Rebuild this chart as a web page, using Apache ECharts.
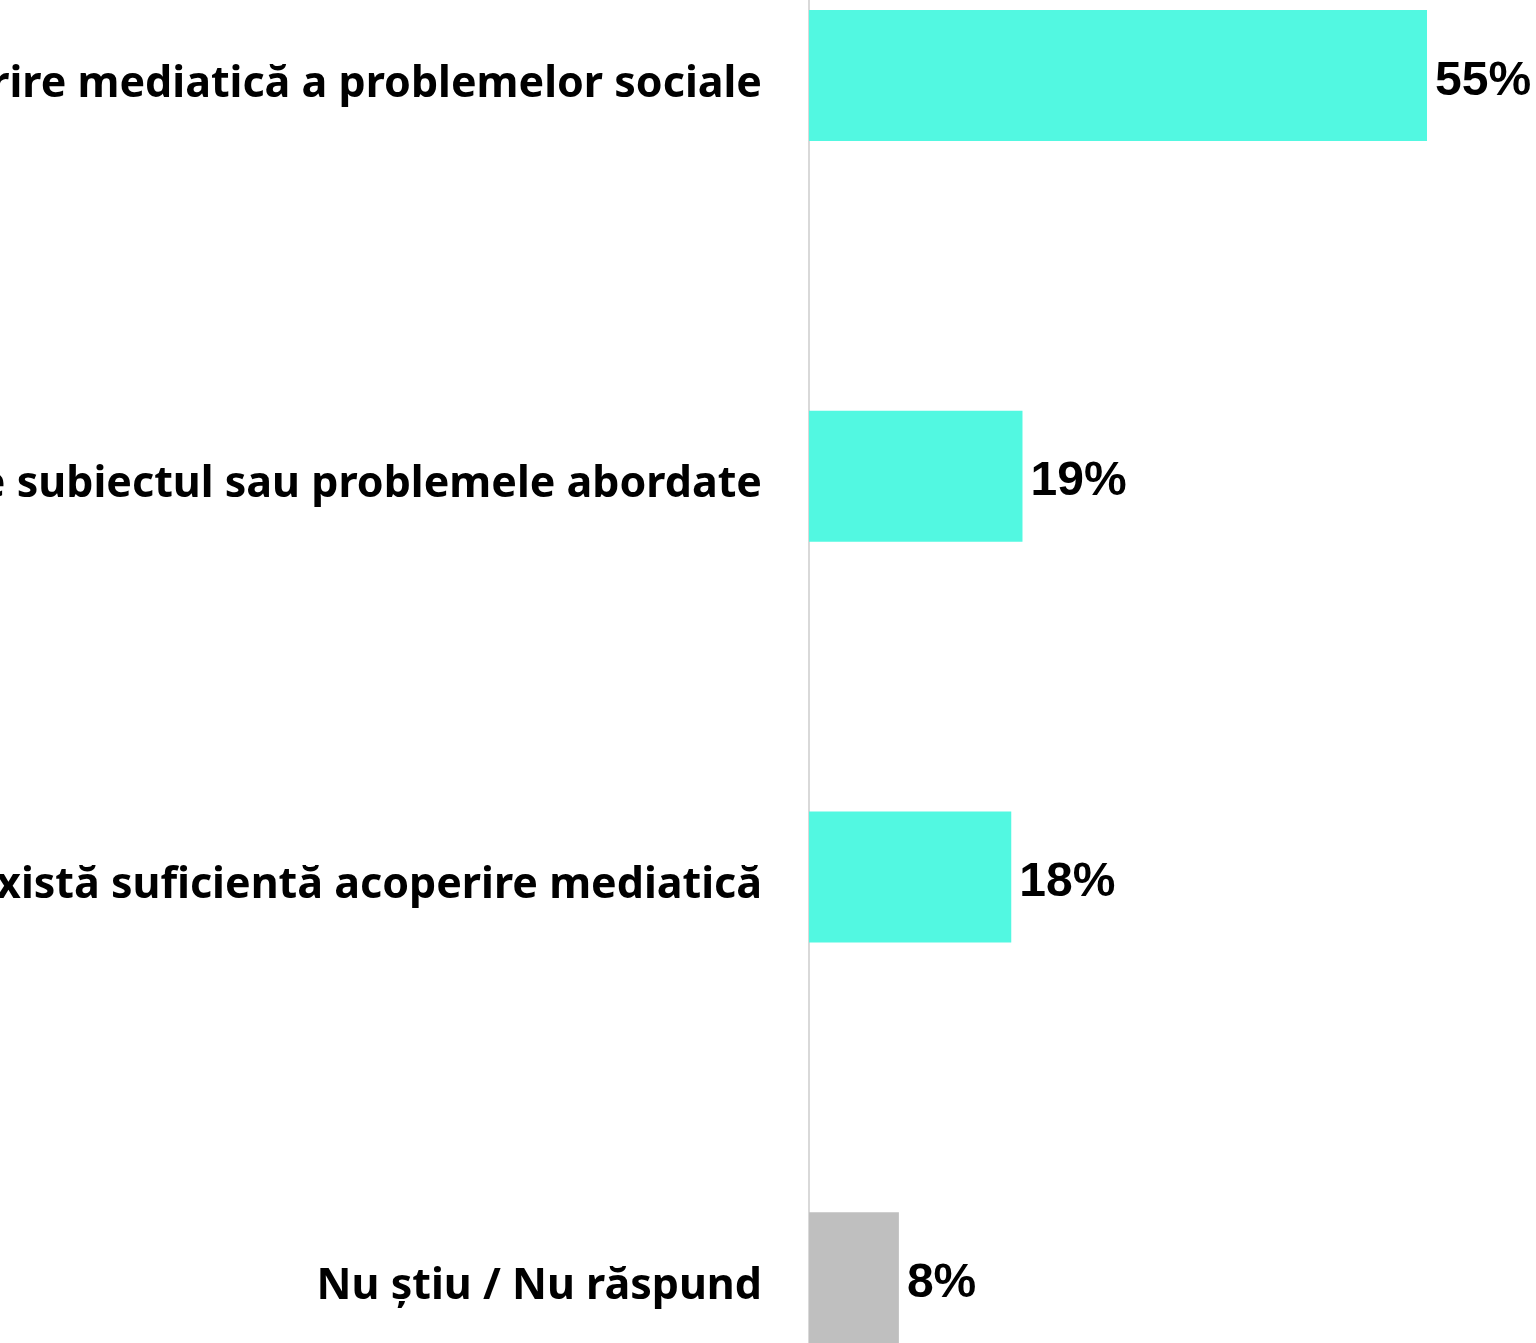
<!DOCTYPE html>
<html>
<head>
<meta charset="utf-8">
<script src="https://cdn.jsdelivr.net/npm/echarts@6/dist/echarts.min.js"></script>
<style>
  html, body { margin: 0; padding: 0; background: #fff; }
  #chart { width: 1536px; height: 1343px; }
</style>
</head>
<body>
<div id="chart"></div>
<script>
  // categories top to bottom
  const categories = [
    'Este nevoie de mai multă acoperire mediatică a problemelor sociale',
    'Depinde de subiectul sau problemele abordate',
    'Există suficientă acoperire mediatică',
    'Nu știu / Nu răspund'
  ];
  const values = [55, 19, 18, 8];
  const barColors = ['#52f8e1', '#52f8e1', '#52f8e1', '#bfbfbf'];

  const myChart = echarts.init(document.getElementById('chart'));
  const option = {
    animation: false,
    grid: {
      left: 809,
      right: 109,
      top: -125,
      bottom: -135,
      containLabel: false,
      outerBoundsMode: 'none'
    },
    xAxis: {
      type: 'value',
      min: 0,
      max: 55,
      show: false
    },
    yAxis: {
      type: 'category',
      inverse: true,
      data: categories,
      axisLine: { show: true, lineStyle: { color: '#d9d9d9', width: 2 } },
      axisTick: { show: false },
      axisLabel: {
        margin: 47,
        verticalAlign: 'top',
        lineHeight: 18,
        color: '#000',
        fontFamily: 'Noto Sans',
        fontWeight: 'bold',
        fontSize: 43
      }
    },
    series: [
      {
        type: 'bar',
        barWidth: 131,
        data: values.map((v, i) => ({ value: v, itemStyle: { color: barColors[i] } })),
        label: {
          show: true,
          position: 'right',
          distance: 8,
          offset: [0, 6],
          formatter: '{c}%',
          color: '#000',
          fontFamily: 'Liberation Sans',
          fontWeight: 'bold',
          fontSize: 48
        }
      }
    ]
  };
  myChart.setOption(option);
</script>
</body>
</html>
